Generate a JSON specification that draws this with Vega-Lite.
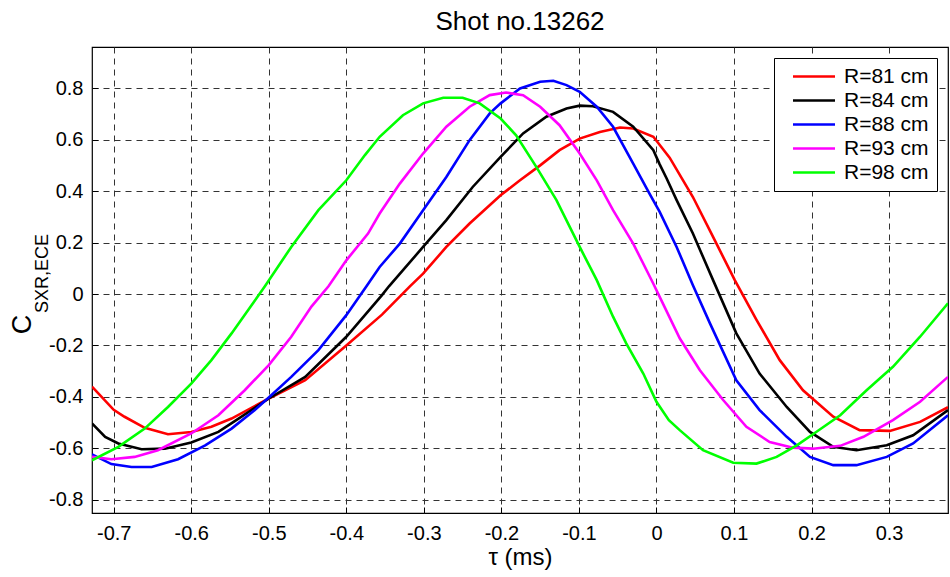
{
  "$schema": "https://vega.github.io/schema/vega-lite/v6.json",
  "width": 856,
  "height": 466,
  "autosize": {"type": "none"},
  "padding": {"left": 92, "top": 47, "right": 2, "bottom": 64},
  "background": "white",
  "title": {"text": "Shot no.13262", "fontSize": 26, "font": "Liberation Sans", "fontWeight": "normal", "color": "black", "offset": 12},
  "config": {
    "view": {"stroke": "black", "strokeWidth": 1.2},
    "font": "Liberation Sans",
    "axis": {
      "domain": false,
      "grid": true,
      "gridColor": "#333333",
      "gridDash": [6, 5],
      "gridOpacity": 1,
      "gridWidth": 1,
      "tickColor": "black",
      "tickSize": -6,
      "tickWidth": 1,
      "labelFont": "Liberation Sans",
      "labelFontSize": 20,
      "labelColor": "black",
      "titleFont": "Liberation Sans",
      "titleColor": "black",
      "titleFontWeight": "normal"
    }
  },
  "data": {"values": [
    {"s":"R=81 cm","t":-0.728,"c":-0.36},{"s":"R=81 cm","t":-0.70,"c":-0.45},{"s":"R=81 cm","t":-0.686,"c":-0.477},{"s":"R=81 cm","t":-0.66,"c":-0.52},{"s":"R=81 cm","t":-0.63,"c":-0.545},{"s":"R=81 cm","t":-0.60,"c":-0.536},{"s":"R=81 cm","t":-0.574,"c":-0.516},{"s":"R=81 cm","t":-0.548,"c":-0.484},{"s":"R=81 cm","t":-0.50,"c":-0.406},{"s":"R=81 cm","t":-0.453,"c":-0.335},{"s":"R=81 cm","t":-0.40,"c":-0.20},{"s":"R=81 cm","t":-0.354,"c":-0.08},{"s":"R=81 cm","t":-0.318,"c":0.03},{"s":"R=81 cm","t":-0.301,"c":0.079},{"s":"R=81 cm","t":-0.271,"c":0.183},{"s":"R=81 cm","t":-0.241,"c":0.274},{"s":"R=81 cm","t":-0.201,"c":0.384},{"s":"R=81 cm","t":-0.176,"c":0.442},{"s":"R=81 cm","t":-0.150,"c":0.50},{"s":"R=81 cm","t":-0.125,"c":0.559},{"s":"R=81 cm","t":-0.099,"c":0.604},{"s":"R=81 cm","t":-0.073,"c":0.63},{"s":"R=81 cm","t":-0.047,"c":0.647},{"s":"R=81 cm","t":-0.030,"c":0.643},{"s":"R=81 cm","t":-0.004,"c":0.611},{"s":"R=81 cm","t":0.017,"c":0.53},{"s":"R=81 cm","t":0.047,"c":0.377},{"s":"R=81 cm","t":0.073,"c":0.222},{"s":"R=81 cm","t":0.101,"c":0.054},{"s":"R=81 cm","t":0.129,"c":-0.10},{"s":"R=81 cm","t":0.159,"c":-0.257},{"s":"R=81 cm","t":0.189,"c":-0.374},{"s":"R=81 cm","t":0.228,"c":-0.477},{"s":"R=81 cm","t":0.262,"c":-0.529},{"s":"R=81 cm","t":0.301,"c":-0.532},{"s":"R=81 cm","t":0.340,"c":-0.497},{"s":"R=81 cm","t":0.376,"c":-0.44},
    {"s":"R=84 cm","t":-0.728,"c":-0.503},{"s":"R=84 cm","t":-0.711,"c":-0.555},{"s":"R=84 cm","t":-0.694,"c":-0.581},{"s":"R=84 cm","t":-0.664,"c":-0.603},{"s":"R=84 cm","t":-0.634,"c":-0.601},{"s":"R=84 cm","t":-0.60,"c":-0.577},{"s":"R=84 cm","t":-0.565,"c":-0.536},{"s":"R=84 cm","t":-0.539,"c":-0.484},{"s":"R=84 cm","t":-0.50,"c":-0.406},{"s":"R=84 cm","t":-0.453,"c":-0.322},{"s":"R=84 cm","t":-0.40,"c":-0.166},{"s":"R=84 cm","t":-0.354,"c":-0.004},{"s":"R=84 cm","t":-0.345,"c":0.03},{"s":"R=84 cm","t":-0.301,"c":0.183},{"s":"R=84 cm","t":-0.271,"c":0.287},{"s":"R=84 cm","t":-0.237,"c":0.416},{"s":"R=84 cm","t":-0.201,"c":0.533},{"s":"R=84 cm","t":-0.172,"c":0.624},{"s":"R=84 cm","t":-0.142,"c":0.689},{"s":"R=84 cm","t":-0.116,"c":0.721},{"s":"R=84 cm","t":-0.099,"c":0.732},{"s":"R=84 cm","t":-0.082,"c":0.730},{"s":"R=84 cm","t":-0.056,"c":0.708},{"s":"R=84 cm","t":-0.030,"c":0.650},{"s":"R=84 cm","t":-0.004,"c":0.559},{"s":"R=84 cm","t":0.004,"c":0.505},{"s":"R=84 cm","t":0.013,"c":0.45},{"s":"R=84 cm","t":0.026,"c":0.365},{"s":"R=84 cm","t":0.047,"c":0.235},{"s":"R=84 cm","t":0.073,"c":0.054},{"s":"R=84 cm","t":0.103,"c":-0.153},{"s":"R=84 cm","t":0.133,"c":-0.309},{"s":"R=84 cm","t":0.168,"c":-0.439},{"s":"R=84 cm","t":0.198,"c":-0.536},{"s":"R=84 cm","t":0.228,"c":-0.594},{"s":"R=84 cm","t":0.258,"c":-0.607},{"s":"R=84 cm","t":0.297,"c":-0.588},{"s":"R=84 cm","t":0.331,"c":-0.549},{"s":"R=84 cm","t":0.376,"c":-0.451},
    {"s":"R=88 cm","t":-0.728,"c":-0.623},{"s":"R=88 cm","t":-0.703,"c":-0.661},{"s":"R=88 cm","t":-0.677,"c":-0.672},{"s":"R=88 cm","t":-0.651,"c":-0.672},{"s":"R=88 cm","t":-0.617,"c":-0.642},{"s":"R=88 cm","t":-0.582,"c":-0.588},{"s":"R=88 cm","t":-0.548,"c":-0.523},{"s":"R=88 cm","t":-0.518,"c":-0.451},{"s":"R=88 cm","t":-0.50,"c":-0.402},{"s":"R=88 cm","t":-0.471,"c":-0.322},{"s":"R=88 cm","t":-0.436,"c":-0.218},{"s":"R=88 cm","t":-0.40,"c":-0.082},{"s":"R=88 cm","t":-0.374,"c":0.03},{"s":"R=88 cm","t":-0.357,"c":0.105},{"s":"R=88 cm","t":-0.331,"c":0.196},{"s":"R=88 cm","t":-0.301,"c":0.326},{"s":"R=88 cm","t":-0.271,"c":0.455},{"s":"R=88 cm","t":-0.241,"c":0.598},{"s":"R=88 cm","t":-0.215,"c":0.702},{"s":"R=88 cm","t":-0.201,"c":0.741},{"s":"R=88 cm","t":-0.176,"c":0.799},{"s":"R=88 cm","t":-0.150,"c":0.825},{"s":"R=88 cm","t":-0.133,"c":0.829},{"s":"R=88 cm","t":-0.116,"c":0.812},{"s":"R=88 cm","t":-0.099,"c":0.786},{"s":"R=88 cm","t":-0.077,"c":0.728},{"s":"R=88 cm","t":-0.056,"c":0.650},{"s":"R=88 cm","t":-0.030,"c":0.507},{"s":"R=88 cm","t":-0.009,"c":0.390},{"s":"R=88 cm","t":0.004,"c":0.32},{"s":"R=88 cm","t":0.026,"c":0.183},{"s":"R=88 cm","t":0.047,"c":0.034},{"s":"R=88 cm","t":0.069,"c":-0.114},{"s":"R=88 cm","t":0.103,"c":-0.335},{"s":"R=88 cm","t":0.133,"c":-0.451},{"s":"R=88 cm","t":0.168,"c":-0.555},{"s":"R=88 cm","t":0.198,"c":-0.633},{"s":"R=88 cm","t":0.228,"c":-0.665},{"s":"R=88 cm","t":0.258,"c":-0.665},{"s":"R=88 cm","t":0.297,"c":-0.633},{"s":"R=88 cm","t":0.331,"c":-0.581},{"s":"R=88 cm","t":0.376,"c":-0.471},
    {"s":"R=93 cm","t":-0.728,"c":-0.633},{"s":"R=93 cm","t":-0.703,"c":-0.642},{"s":"R=93 cm","t":-0.673,"c":-0.633},{"s":"R=93 cm","t":-0.643,"c":-0.607},{"s":"R=93 cm","t":-0.60,"c":-0.542},{"s":"R=93 cm","t":-0.565,"c":-0.471},{"s":"R=93 cm","t":-0.531,"c":-0.374},{"s":"R=93 cm","t":-0.50,"c":-0.276},{"s":"R=93 cm","t":-0.471,"c":-0.166},{"s":"R=93 cm","t":-0.445,"c":-0.049},{"s":"R=93 cm","t":-0.423,"c":0.03},{"s":"R=93 cm","t":-0.40,"c":0.131},{"s":"R=93 cm","t":-0.372,"c":0.235},{"s":"R=93 cm","t":-0.357,"c":0.313},{"s":"R=93 cm","t":-0.331,"c":0.429},{"s":"R=93 cm","t":-0.301,"c":0.546},{"s":"R=93 cm","t":-0.271,"c":0.650},{"s":"R=93 cm","t":-0.241,"c":0.728},{"s":"R=93 cm","t":-0.215,"c":0.773},{"s":"R=93 cm","t":-0.194,"c":0.783},{"s":"R=93 cm","t":-0.172,"c":0.773},{"s":"R=93 cm","t":-0.150,"c":0.728},{"s":"R=93 cm","t":-0.125,"c":0.656},{"s":"R=93 cm","t":-0.099,"c":0.546},{"s":"R=93 cm","t":-0.077,"c":0.442},{"s":"R=93 cm","t":-0.056,"c":0.326},{"s":"R=93 cm","t":-0.030,"c":0.196},{"s":"R=93 cm","t":-0.004,"c":0.04},{"s":"R=93 cm","t":0.004,"c":-0.01},{"s":"R=93 cm","t":0.030,"c":-0.172},{"s":"R=93 cm","t":0.056,"c":-0.296},{"s":"R=93 cm","t":0.086,"c":-0.412},{"s":"R=93 cm","t":0.116,"c":-0.516},{"s":"R=93 cm","t":0.146,"c":-0.575},{"s":"R=93 cm","t":0.176,"c":-0.597},{"s":"R=93 cm","t":0.202,"c":-0.601},{"s":"R=93 cm","t":0.237,"c":-0.590},{"s":"R=93 cm","t":0.267,"c":-0.555},{"s":"R=93 cm","t":0.305,"c":-0.490},{"s":"R=93 cm","t":0.340,"c":-0.419},{"s":"R=93 cm","t":0.376,"c":-0.322},
    {"s":"R=98 cm","t":-0.728,"c":-0.646},{"s":"R=98 cm","t":-0.694,"c":-0.594},{"s":"R=98 cm","t":-0.66,"c":-0.523},{"s":"R=98 cm","t":-0.63,"c":-0.439},{"s":"R=98 cm","t":-0.60,"c":-0.348},{"s":"R=98 cm","t":-0.574,"c":-0.257},{"s":"R=98 cm","t":-0.548,"c":-0.153},{"s":"R=98 cm","t":-0.522,"c":-0.043},{"s":"R=98 cm","t":-0.505,"c":0.03},{"s":"R=98 cm","t":-0.471,"c":0.183},{"s":"R=98 cm","t":-0.436,"c":0.326},{"s":"R=98 cm","t":-0.40,"c":0.442},{"s":"R=98 cm","t":-0.376,"c":0.540},{"s":"R=98 cm","t":-0.357,"c":0.611},{"s":"R=98 cm","t":-0.327,"c":0.695},{"s":"R=98 cm","t":-0.301,"c":0.741},{"s":"R=98 cm","t":-0.275,"c":0.763},{"s":"R=98 cm","t":-0.250,"c":0.763},{"s":"R=98 cm","t":-0.228,"c":0.741},{"s":"R=98 cm","t":-0.201,"c":0.682},{"s":"R=98 cm","t":-0.181,"c":0.617},{"s":"R=98 cm","t":-0.155,"c":0.494},{"s":"R=98 cm","t":-0.129,"c":0.365},{"s":"R=98 cm","t":-0.099,"c":0.183},{"s":"R=98 cm","t":-0.077,"c":0.054},{"s":"R=98 cm","t":-0.056,"c":-0.088},{"s":"R=98 cm","t":-0.039,"c":-0.192},{"s":"R=98 cm","t":-0.017,"c":-0.309},{"s":"R=98 cm","t":0.0,"c":-0.419},{"s":"R=98 cm","t":0.016,"c":-0.49},{"s":"R=98 cm","t":0.030,"c":-0.529},{"s":"R=98 cm","t":0.060,"c":-0.607},{"s":"R=98 cm","t":0.099,"c":-0.656},{"s":"R=98 cm","t":0.129,"c":-0.659},{"s":"R=98 cm","t":0.155,"c":-0.633},{"s":"R=98 cm","t":0.181,"c":-0.588},{"s":"R=98 cm","t":0.206,"c":-0.536},{"s":"R=98 cm","t":0.237,"c":-0.471},{"s":"R=98 cm","t":0.271,"c":-0.374},{"s":"R=98 cm","t":0.305,"c":-0.283},{"s":"R=98 cm","t":0.340,"c":-0.166},{"s":"R=98 cm","t":0.376,"c":-0.036}
  ]},
  "layer": [
    {
      "mark": {"type": "line", "strokeWidth": 2.6, "clip": true},
      "encoding": {
        "x": {
          "field": "t", "type": "quantitative", "title": "τ (ms)",
          "scale": {"domain": [-0.728, 0.376], "nice": false, "zero": false},
          "axis": {"values": [-0.7, -0.6, -0.5, -0.4, -0.3, -0.2, -0.1, 0, 0.1, 0.2, 0.3], "labelExpr": "'' + datum.value", "labelPadding": 16, "titleFontSize": 24, "titlePadding": 2}
        },
        "y": {
          "field": "c", "type": "quantitative",
          "scale": {"domain": [-0.851, 0.96], "nice": false, "zero": false},
          "axis": {"values": [-0.8, -0.6, -0.4, -0.2, 0, 0.2, 0.4, 0.6, 0.8], "labelExpr": "'' + datum.value", "labelPadding": 15, "title": "C", "titleFontSize": 27, "titleAngle": 270, "titleX": -70, "titleY": 277, "titleBaseline": "middle", "titleAlign": "center"}
        },
        "color": {
          "field": "s", "type": "nominal",
          "scale": {"domain": ["R=81 cm", "R=84 cm", "R=88 cm", "R=93 cm", "R=98 cm"], "range": ["#ff0000", "#000000", "#0000ff", "#ff00ff", "#00ff00"]},
          "legend": {"orient": "top-right", "offset": 11, "title": null, "symbolType": "M0.1,0H8.5", "symbolSize": 100, "symbolStrokeWidth": 2.6, "labelFontSize": 21, "labelFont": "Liberation Sans", "labelColor": "black", "labelExpr": "datum.label + '\u00a0\u00a0'", "strokeColor": "black", "fillColor": "white", "padding": 8, "rowPadding": 2, "labelOffset": 41, "cornerRadius": 0}
        }
      }
    },
    {
      "mark": {"type": "line", "opacity": 0},
      "encoding": {
        "x": {"field": "t", "type": "quantitative", "title": "τ (ms)"},
        "y": {
          "field": "c", "type": "quantitative",
          "scale": {"domain": [-0.851, 0.96], "nice": false, "zero": false},
          "axis": {"orient": "left", "labels": false, "ticks": false, "domain": false, "grid": false, "title": "SXR,ECE", "titleFontSize": 18, "titleAngle": 270, "titleX": -50, "titleY": 226, "titleBaseline": "middle", "titleAlign": "center"}
        }
      }
    }
  ],
  "resolve": {"scale": {"y": "independent"}, "axis": {"y": "independent"}}
}
